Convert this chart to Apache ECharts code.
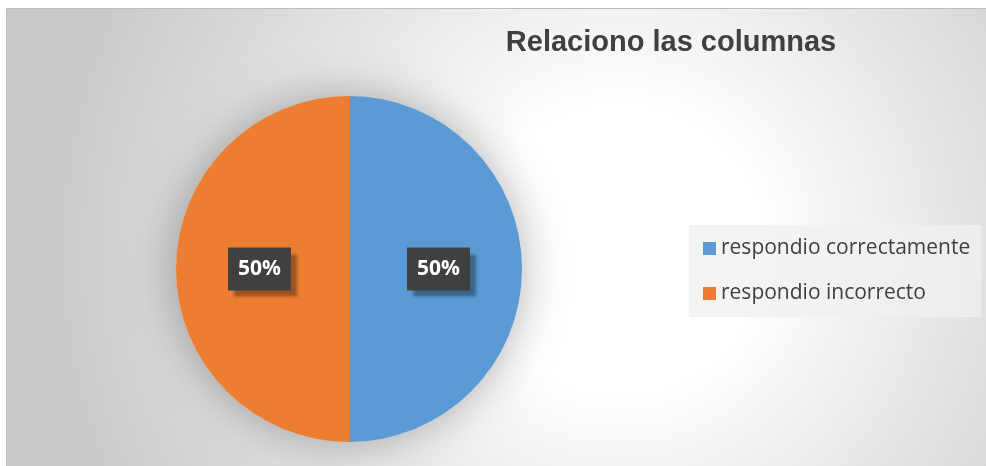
<!DOCTYPE html>
<html>
<head>
<meta charset="utf-8">
<style>
  html, body { margin: 0; padding: 0; background: #ffffff; }
  #chart { width: 986px; height: 466px; }
</style>
<script src="https://cdn.jsdelivr.net/npm/echarts@6/dist/echarts.min.js"></script>
</head>
<body>
<div id="chart"></div>
<script>
// Answer categories and their shares
const categories = ['respondio correctamente', 'respondio incorrecto'];
const values = [50, 50];
const colors = ['#5B9BD5', '#ED7D31'];
const titleText = 'Relaciono las columnas';

const chart = echarts.init(document.getElementById('chart'), null, { renderer: 'canvas' });

const pieData = categories.map((name, i) => ({
  name: name,
  value: values[i],
  itemStyle: { color: colors[i] }
}));

const pieCenter = [349, 269];
const pieRadius = 173;

chart.setOption({
  animation: false,
  backgroundColor: '#ffffff',
  graphic: [
    {
      type: 'rect',
      z: -10,
      silent: true,
      shape: { x: 6.5, y: 8.5, width: 990, height: 470 },
      style: {
        fill: new echarts.graphic.RadialGradient(620, 250, 560, [
          { offset: 0, color: '#ffffff' },
          { offset: 0.25, color: '#ffffff' },
          { offset: 0.7, color: '#dedede' },
          { offset: 1, color: '#cbcbcb' }
        ], true),
        stroke: '#bdbdbd',
        lineWidth: 1
      }
    }
  ],
  title: {
    text: titleText,
    left: 666,
    top: 23,
    textAlign: 'center',
    textStyle: {
      fontFamily: 'Liberation Sans, Arial, sans-serif',
      fontWeight: 'bold',
      fontSize: 29,
      color: '#404040'
    }
  },
  legend: {
    orient: 'vertical',
    left: 689,
    top: 225,
    padding: [13, 11, 13, 14],
    backgroundColor: 'rgba(240,240,240,0.75)',
    itemWidth: 13,
    itemHeight: 13,
    itemGap: 24,
    icon: 'rect',
    selectedMode: false,
    data: categories,
    textStyle: {
      fontFamily: 'Open Sans, Liberation Sans, sans-serif',
      fontSize: 21,
      color: '#404040'
    }
  },
  series: [
    {
      // soft halo underneath the whole pie
      type: 'pie',
      name: 'halo',
      silent: true,
      z: 1,
      center: pieCenter,
      radius: [0, pieRadius],
      data: [{ value: values.reduce((a, b) => a + b, 0), name: '' }],
      itemStyle: {
        color: '#d8d8d8',
        borderWidth: 0,
        shadowBlur: 45,
        shadowColor: 'rgba(0,0,0,0.3)'
      },
      label: { show: false },
      labelLine: { show: false },
      emphasis: { disabled: true },
      tooltip: { show: false }
    },
    {
      type: 'pie',
      z: 2,
      center: pieCenter,
      radius: [0, pieRadius],
      startAngle: 90,
      clockwise: true,
      data: pieData,
      itemStyle: { borderWidth: 0 },
      emphasis: { disabled: true },
      labelLine: { show: false },
      label: {
        show: true,
        position: 'inside',
        formatter: '{d}%',
        fontFamily: 'Open Sans, Liberation Sans, sans-serif',
        fontWeight: 'bold',
        fontSize: 21,
        color: '#ffffff',
        backgroundColor: '#404040',
        padding: [12, 10, 10, 10],
        shadowColor: 'rgba(0,0,0,0.35)',
        shadowBlur: 3,
        shadowOffsetX: 6,
        shadowOffsetY: 6
      }
    }
  ]
});
</script>
</body>
</html>
